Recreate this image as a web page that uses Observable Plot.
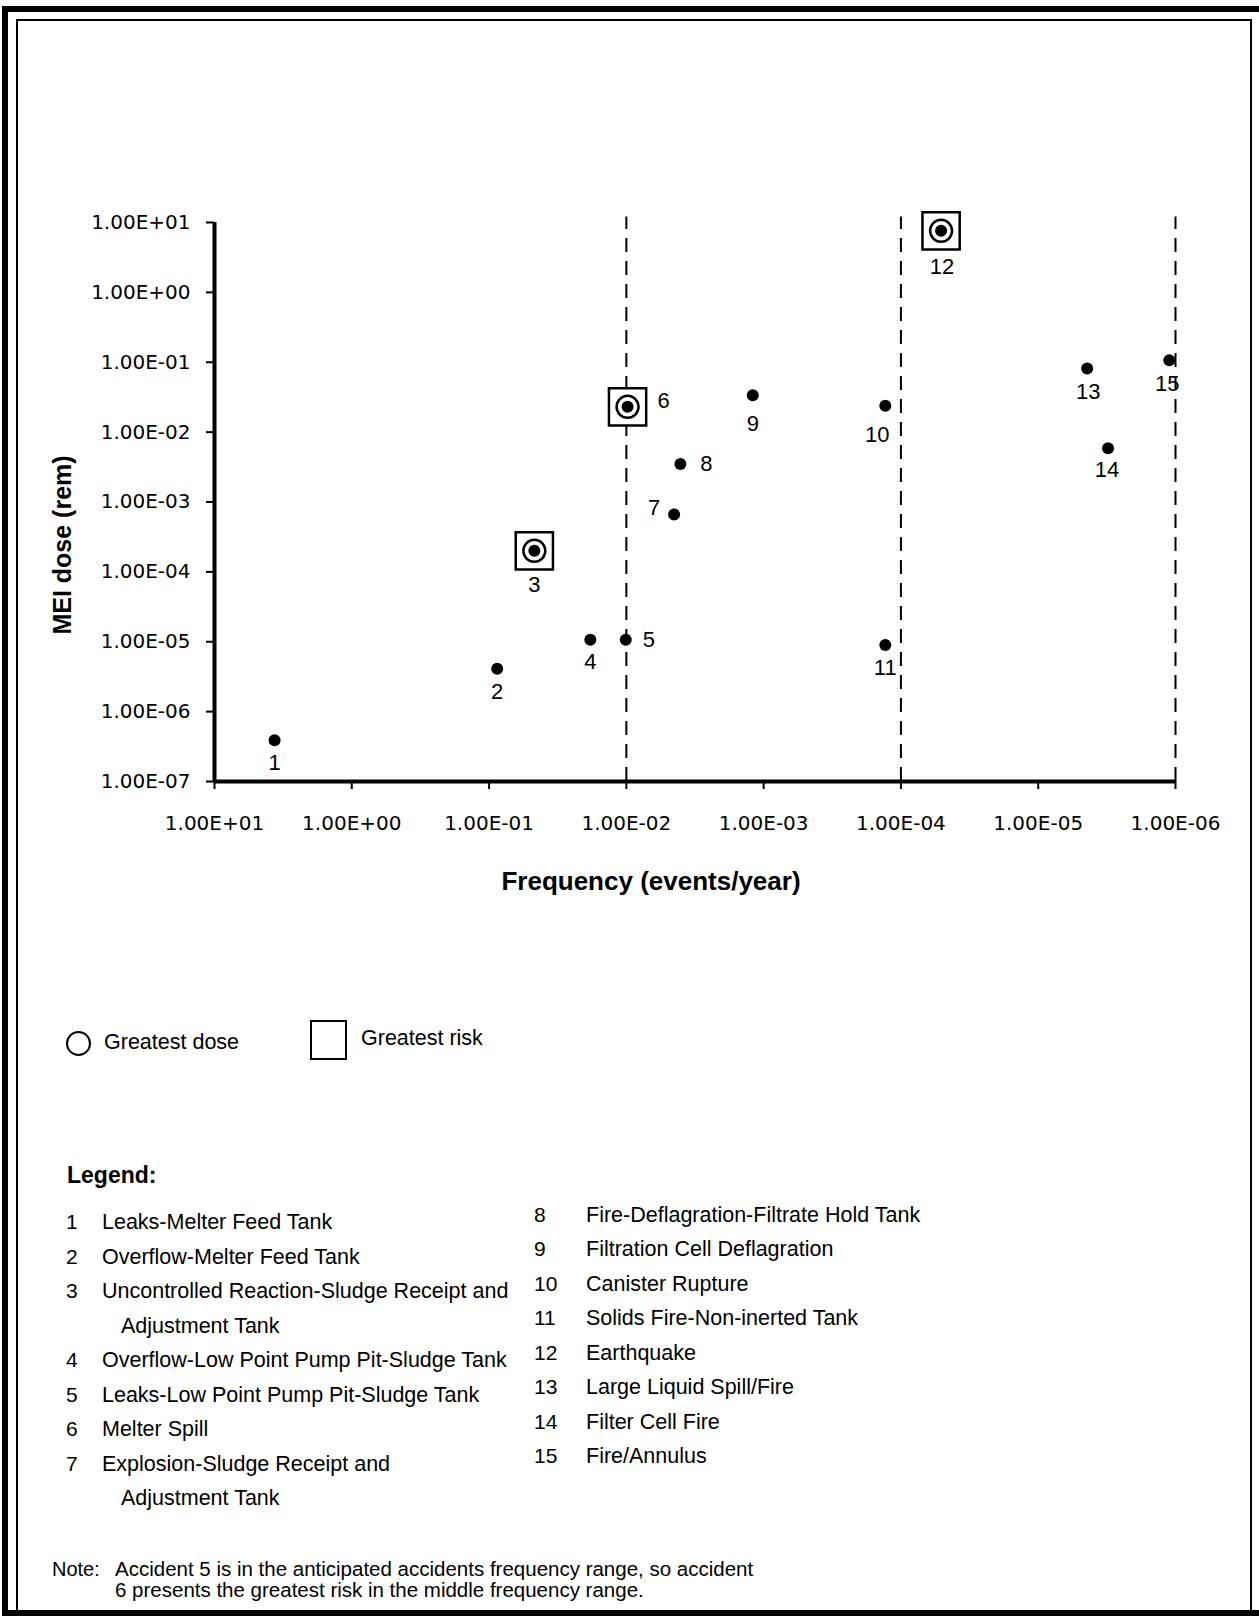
<!DOCTYPE html>
<html>
<head>
<meta charset="utf-8">
<script src="https://cdn.jsdelivr.net/npm/d3@7"></script>
<script src="https://cdn.jsdelivr.net/npm/@observablehq/plot@0.6"></script>
<style>
  html, body { margin: 0; padding: 0; background: #fff; }
  #page { position: relative; width: 1259px; height: 1624px; overflow: hidden; font-family: "Liberation Sans", Arial, sans-serif; color: #000; }
  .abs { position: absolute; white-space: nowrap; }
  .mid { transform: translateY(-50%); }
  #plot svg g[aria-label="x-axis tick"], #plot svg g[aria-label="y-axis tick"] { stroke-width: 2; }
  #plot svg g[aria-label="x-axis tick label"], #plot svg g[aria-label="y-axis tick label"] { font-family: "DejaVu Sans", sans-serif; font-size: 20px; }
</style>
</head>
<body>
<div id="page">
  <div class="abs" style="left:2px;top:6px;width:1280px;height:1610px;border:6px solid #000;box-sizing:border-box;"></div>
  <div class="abs" style="left:16px;top:19px;width:1236px;height:1593px;border:2px solid #000;box-sizing:border-box;"></div>
  <div id="plot" class="abs" style="left:0;top:0;"></div>
</div>
<script>
// ---------- data ----------
const accidentIds = [1, 2, 3, 4, 5, 6, 7, 8, 9, 10, 11, 12, 13, 14, 15];
const frequency = [3.65, 0.0873, 0.0468, 0.0183, 0.0101, 0.0098, 0.00449, 0.00404, 0.0012, 0.00013, 0.00013, 0.000051, 0.0000044, 0.0000031, 0.00000111];
const meiDose = [3.9e-7, 4.1e-6, 2.0e-4, 1.07e-5, 1.07e-5, 0.023, 6.6e-4, 3.5e-3, 0.0336, 0.0239, 9.0e-6, 7.6, 0.0815, 5.9e-3, 0.107];
const greatestDose = [3, 6, 12];
const greatestRisk = [3, 6, 12];
const rangeBoundaries = [1e-2, 1e-4, 1e-6];
const xTickValues = [10, 1, 0.1, 0.01, 0.001, 0.0001, 0.00001, 0.000001];
const xTickLabels = ["1.00E+01", "1.00E+00", "1.00E-01", "1.00E-02", "1.00E-03", "1.00E-04", "1.00E-05", "1.00E-06"];
const yTickValues = [10, 1, 0.1, 0.01, 0.001, 0.0001, 0.00001, 0.000001, 0.0000001];
const yTickLabels = ["1.00E+01", "1.00E+00", "1.00E-01", "1.00E-02", "1.00E-03", "1.00E-04", "1.00E-05", "1.00E-06", "1.00E-07"];
const xTitle = "Frequency (events/year)";
const yTitle = "MEI dose (rem)";
const accidentNames = [
  "Leaks-Melter Feed Tank",
  "Overflow-Melter Feed Tank",
  "Uncontrolled Reaction-Sludge Receipt and|Adjustment Tank",
  "Overflow-Low Point Pump Pit-Sludge Tank",
  "Leaks-Low Point Pump Pit-Sludge Tank",
  "Melter Spill",
  "Explosion-Sludge Receipt and|Adjustment Tank",
  "Fire-Deflagration-Filtrate Hold Tank",
  "Filtration Cell Deflagration",
  "Canister Rupture",
  "Solids Fire-Non-inerted Tank",
  "Earthquake",
  "Large Liquid Spill/Fire",
  "Filter Cell Fire",
  "Fire/Annulus"
];
const noteLines = [
  "Accident 5 is in the anticipated accidents frequency range, so accident",
  "6 presents the greatest risk in the middle frequency range."
];

// ---------- chart ----------
const points = accidentIds.map((id, i) => ({id, f: frequency[i], d: meiDose[i]}));
// label placement (pixel offsets from the point)
const labelOffset = {
  1: [0, 23], 2: [0, 23], 3: [0, 34], 4: [0, 22], 5: [23, 0], 6: [36, -6], 7: [-20, -7],
  8: [26, 0], 9: [0, 29], 10: [-8, 29], 11: [0, 23], 12: [1, 36], 13: [1, 23], 14: [-1, 22], 15: [-2, 24]
};
const xFmt = d => xTickLabels[xTickValues.findIndex(v => Math.abs(Math.log10(v) - Math.log10(d)) < 1e-6)];
const yFmt = d => yTickLabels[yTickValues.findIndex(v => Math.abs(Math.log10(v) - Math.log10(d)) < 1e-6)];

const textMarks = points.map(p => Plot.text([p], {
  x: "f", y: "d", text: d => String(d.id),
  dx: labelOffset[p.id][0], dy: labelOffset[p.id][1],
  fontSize: 22, fill: "#000"
}));

const chart = Plot.plot({
  width: 1259,
  height: 860,
  marginLeft: 214,
  marginRight: 84,
  marginTop: 222,
  marginBottom: 79,
  style: {fontFamily: "'Liberation Sans', Arial, sans-serif", fontSize: "20px", color: "#000", background: "transparent"},
  x: {type: "log", domain: [10, 1e-6], ticks: xTickValues, tickFormat: xFmt, tickSize: 8, tickPadding: 26, label: null},
  y: {type: "log", domain: [1e-7, 10], ticks: yTickValues, tickFormat: yFmt, tickSize: 8, tickPadding: 16, label: null},
  marks: [
    Plot.ruleX(rangeBoundaries, {x: d => d, y1: 1e-7, y2: 12, stroke: "#000", strokeWidth: 2, strokeDasharray: "14,9"}),
    Plot.ruleY([1e-7], {x1: 10, x2: 1e-6, stroke: "#000", strokeWidth: 4}),
    Plot.ruleX([10], {y1: 1e-7, y2: 10, stroke: "#000", strokeWidth: 4}),
    Plot.dot(points.filter(p => greatestRisk.includes(p.id)), {x: "f", y: "d", symbol: "square", r: 21, stroke: "#000", strokeWidth: 2.5, fill: "#fff"}),
    Plot.dot(points.filter(p => greatestDose.includes(p.id)), {x: "f", y: "d", r: 11, stroke: "#000", strokeWidth: 2.5, fill: "none"}),
    Plot.dot(points, {x: "f", y: "d", r: 6, fill: "#000", stroke: "none"}),
    ...textMarks
  ]
});
document.getElementById("plot").appendChild(chart);

// ---------- HTML text ----------
const page = document.getElementById("page");
function addText(txt, left, top, style = "") {
  const el = document.createElement("div");
  el.className = "abs mid";
  el.style.cssText = `left:${left}px;top:${top}px;${style}`;
  el.textContent = txt;
  page.appendChild(el);
  return el;
}
// axis titles
addText(xTitle, 651, 881, "font-weight:bold;font-size:26px;transform:translate(-50%,-50%);");
addText(yTitle, 62, 545, "font-weight:bold;font-size:25px;transform:translate(-50%,-50%) rotate(-90deg);");

// symbol legend
const circ = document.createElement("div");
circ.className = "abs";
circ.style.cssText = "left:66px;top:1031px;width:25px;height:25px;border:2.5px solid #000;border-radius:50%;box-sizing:border-box;";
page.appendChild(circ);
addText("Greatest dose", 104, 1042, "font-size:21.5px;");
const sq = document.createElement("div");
sq.className = "abs";
sq.style.cssText = "left:310px;top:1020px;width:37px;height:40px;border:2.5px solid #000;box-sizing:border-box;";
page.appendChild(sq);
addText("Greatest risk", 361, 1038, "font-size:21.5px;");

// accident legend
addText("Legend:", 67, 1175, "font-weight:bold;font-size:23px;");
const rowH = 34.5;
let leftY = 1222;
let rightY = 1214.5;
accidentIds.forEach((id, i) => {
  const lines = accidentNames[i].split("|");
  if (id <= 7) {
    addText(String(id), 66, leftY, "font-size:21px;");
    addText(lines[0], 102, leftY, "font-size:21.5px;");
    leftY += rowH;
    if (lines[1]) { addText(lines[1], 121, leftY, "font-size:21.5px;"); leftY += rowH; }
  } else {
    addText(String(id), 534, rightY, "font-size:21px;");
    addText(lines[0], 586, rightY, "font-size:21.5px;");
    rightY += rowH;
  }
});

// note
addText("Note:", 52, 1569, "font-size:20px;line-height:1;");
addText(noteLines[0], 115, 1569, "font-size:20.5px;line-height:1;");
addText(noteLines[1], 115, 1590, "font-size:20.5px;line-height:1;");
</script>
</body>
</html>
